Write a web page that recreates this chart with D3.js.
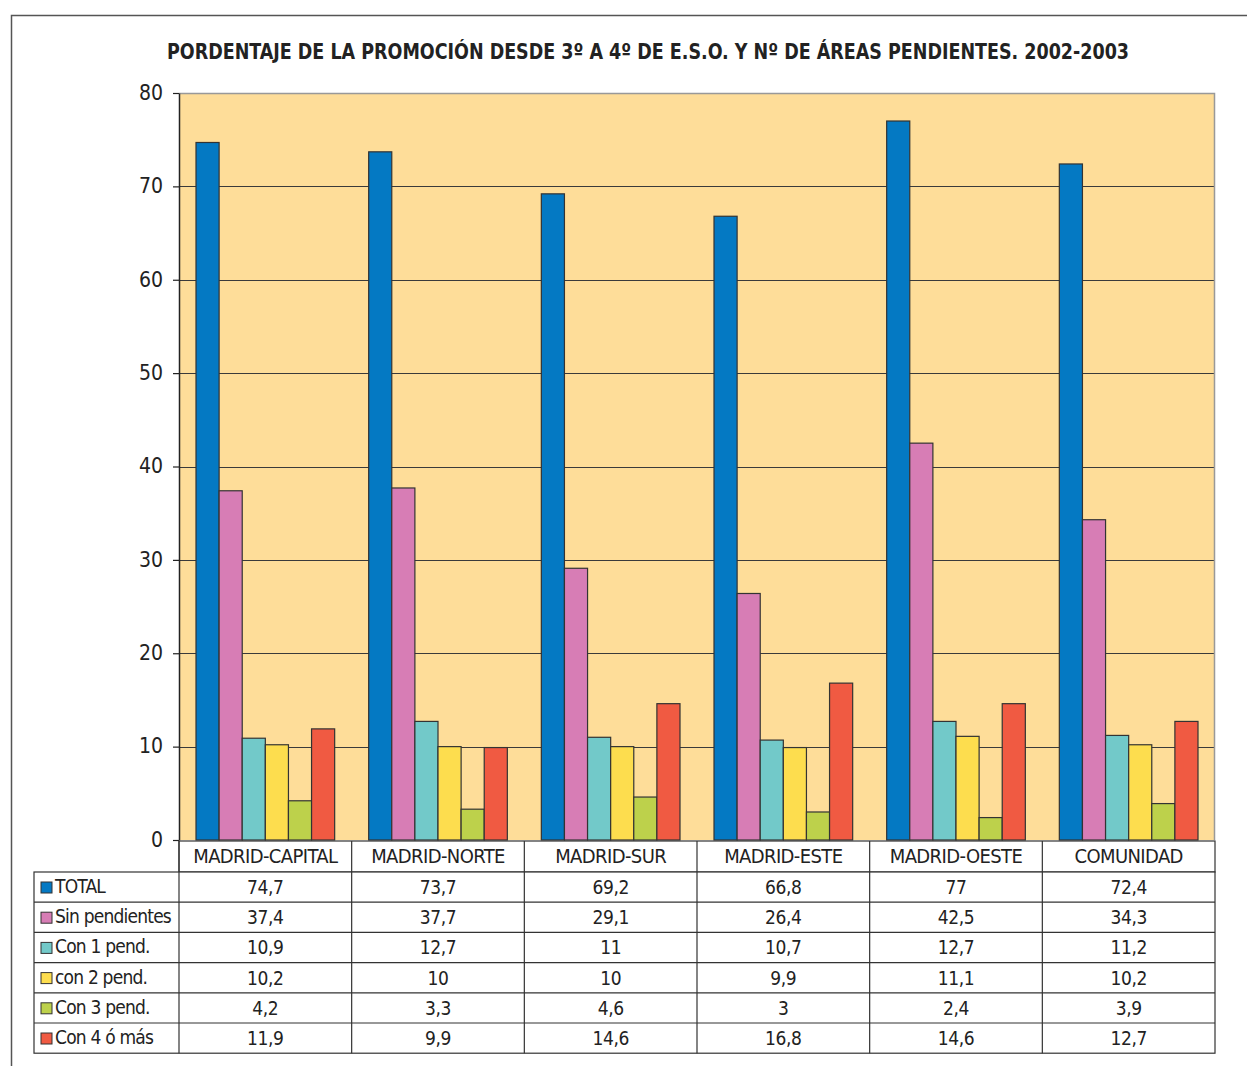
<!DOCTYPE html>
<html>
<head>
<meta charset="utf-8">
<script src="https://cdn.jsdelivr.net/npm/d3@7"></script>
<style>
  html, body { margin: 0; padding: 0; background: #fff; }
  svg { display: block; }
  text { font-family: "Liberation Sans Narrow", "DejaVu Sans Condensed", "Roboto Condensed", sans-serif; fill: #222; }
</style>
</head>
<body>
<div id="chart"></div>
<script>
// chart data
const title = "PORDENTAJE DE LA PROMOCIÓN DESDE 3º A 4º DE E.S.O. Y Nº DE ÁREAS PENDIENTES. 2002-2003";
const categories = ["MADRID-CAPITAL", "MADRID-NORTE", "MADRID-SUR", "MADRID-ESTE", "MADRID-OESTE", "COMUNIDAD"];
const seriesNames = ["TOTAL", "Sin pendientes", "Con 1 pend.", "con 2 pend.", "Con 3 pend.", "Con 4 ó más"];
const total = [74.7, 73.7, 69.2, 66.8, 77, 72.4];
const sinPendientes = [37.4, 37.7, 29.1, 26.4, 42.5, 34.3];
const con1 = [10.9, 12.7, 11, 10.7, 12.7, 11.2];
const con2 = [10.2, 10, 10, 9.9, 11.1, 10.2];
const con3 = [4.2, 3.3, 4.6, 3, 2.4, 3.9];
const con4 = [11.9, 9.9, 14.6, 16.8, 14.6, 12.7];
const yTicks = [0, 10, 20, 30, 40, 50, 60, 70, 80];

const seriesValues = [total, sinPendientes, con1, con2, con3, con4];
const colors = ["#0479c3", "#d77db5", "#72c9c9", "#fddd4e", "#bdd14b", "#f05a42"];

const W = 1247, H = 1066;
const plot = { left: 179, right: 1215, top: 93, bottom: 840 };
const rowH = 30.2;
const tableLeft = 34;

const svg = d3.select("#chart").append("svg")
    .attr("width", W)
    .attr("height", H);

// outer frame
svg.append("path")
    .attr("d", `M11.5,${H} V15.5 H${W}`)
    .attr("fill", "none")
    .attr("stroke", "#555")
    .attr("stroke-width", 1.5);

// title
svg.append("text")
    .attr("x", 648)
    .attr("y", 59)
    .attr("text-anchor", "middle")
    .attr("font-size", 21)
    .attr("font-weight", "bold")
    .attr("textLength", 962)
    .attr("lengthAdjust", "spacingAndGlyphs")
    .text(title);

// scales
const x0 = d3.scaleBand()
    .domain(categories)
    .range([plot.left, plot.right])
    .paddingInner(0)
    .paddingOuter(0);

const x1 = d3.scaleBand()
    .domain(seriesNames)
    .range([17, x0.bandwidth() - 17])
    .padding(0);

const y = d3.scaleLinear()
    .domain([0, 80])
    .range([plot.bottom, plot.top]);

// plot background
svg.append("rect")
    .attr("x", plot.left)
    .attr("y", plot.top)
    .attr("width", plot.right - plot.left)
    .attr("height", plot.bottom - plot.top)
    .attr("fill", "#fedd99");

// gridlines
svg.append("g")
    .selectAll("line")
    .data(yTicks.filter(d => d > 0 && d < 80))
    .enter().append("line")
    .attr("x1", plot.left)
    .attr("x2", plot.right)
    .attr("y1", d => Math.round(y(d)) + 0.5)
    .attr("y2", d => Math.round(y(d)) + 0.5)
    .attr("stroke", "#3a3a3a")
    .attr("stroke-width", 1.2);

// top and right borders of plot area
svg.append("path")
    .attr("d", `M${plot.left},${plot.top + 0.5} H${plot.right - 0.5} V${plot.bottom}`)
    .attr("fill", "none")
    .attr("stroke", "#999")
    .attr("stroke-width", 1.5);

// bars
const groups = svg.append("g")
    .selectAll("g")
    .data(categories)
    .enter().append("g")
    .attr("transform", d => `translate(${x0(d)},0)`);

groups.selectAll("rect")
    .data((d, ci) => seriesNames.map((s, si) => ({ series: s, value: seriesValues[si][ci], color: colors[si] })))
    .enter().append("rect")
    .attr("x", d => x1(d.series))
    .attr("y", d => y(d.value))
    .attr("width", x1.bandwidth())
    .attr("height", d => y(0) - y(d.value))
    .attr("fill", d => d.color)
    .attr("stroke", "#333")
    .attr("stroke-width", 1.2);

// y axis
const yAxis = svg.append("g")
    .attr("transform", `translate(${plot.left},0)`)
    .call(d3.axisLeft(y).tickValues(yTicks).tickSize(6).tickPadding(10).tickSizeOuter(0));

yAxis.select(".domain").attr("stroke", "#222").attr("stroke-width", 1.5);
yAxis.selectAll(".tick line").attr("stroke", "#222").attr("stroke-width", 1.2);
yAxis.selectAll(".tick text")
    .attr("font-size", 21)
    .attr("font-family", "\"Liberation Sans Narrow\", \"DejaVu Sans Condensed\", sans-serif")
    .attr("fill", "#222")
    .attr("dy", "0.3em");

// data table
const table = svg.append("g");
const headerTop = plot.bottom + 1;
const headerBottom = headerTop + 31;
const fmt = v => String(v).replace(".", ",");

// header row (category names)
table.append("rect")
    .attr("x", plot.left)
    .attr("y", headerTop)
    .attr("width", plot.right - plot.left)
    .attr("height", headerBottom - headerTop)
    .attr("fill", "#fff")
    .attr("stroke", "#333")
    .attr("stroke-width", 1.2);

table.selectAll(".cat-label")
    .data(categories)
    .enter().append("text")
    .attr("class", "cat-label")
    .attr("x", d => x0(d) + x0.bandwidth() / 2)
    .attr("y", headerTop + 22)
    .attr("text-anchor", "middle")
    .attr("font-size", 20)
    .attr("letter-spacing", "-0.6")
    .text(d => d);

// body rows
const bodyTop = headerBottom;
const bodyBottom = bodyTop + rowH * seriesNames.length;

table.append("rect")
    .attr("x", tableLeft)
    .attr("y", bodyTop)
    .attr("width", plot.right - tableLeft)
    .attr("height", bodyBottom - bodyTop)
    .attr("fill", "#fff")
    .attr("stroke", "#333")
    .attr("stroke-width", 1.2);

// horizontal row separators
table.selectAll(".row-line")
    .data(d3.range(1, seriesNames.length))
    .enter().append("line")
    .attr("x1", tableLeft)
    .attr("x2", plot.right)
    .attr("y1", i => bodyTop + i * rowH)
    .attr("y2", i => bodyTop + i * rowH)
    .attr("stroke", "#333")
    .attr("stroke-width", 1.2);

// vertical column separators
table.selectAll(".col-line")
    .data(categories)
    .enter().append("line")
    .attr("x1", d => x0(d))
    .attr("x2", d => x0(d))
    .attr("y1", headerTop)
    .attr("y2", bodyBottom)
    .attr("stroke", "#333")
    .attr("stroke-width", 1.2);

// legend cells
const rows = table.selectAll(".row")
    .data(seriesNames)
    .enter().append("g")
    .attr("transform", (d, i) => `translate(0,${bodyTop + i * rowH})`);

rows.append("rect")
    .attr("x", 41)
    .attr("y", 10)
    .attr("width", 11)
    .attr("height", 11)
    .attr("fill", (d, i) => colors[i])
    .attr("stroke", "#333")
    .attr("stroke-width", 1);

rows.append("text")
    .attr("x", 55)
    .attr("y", 21)
    .attr("font-size", 19)
    .attr("letter-spacing", "-0.8")
    .text(d => d);

rows.selectAll(".val")
    .data((d, si) => categories.map((c, ci) => ({ c, v: seriesValues[si][ci] })))
    .enter().append("text")
    .attr("class", "val")
    .attr("x", d => x0(d.c) + x0.bandwidth() / 2)
    .attr("y", 22)
    .attr("text-anchor", "middle")
    .attr("font-size", 19)
    .attr("letter-spacing", "-0.4")
    .text(d => fmt(d.v));
</script>
</body>
</html>
